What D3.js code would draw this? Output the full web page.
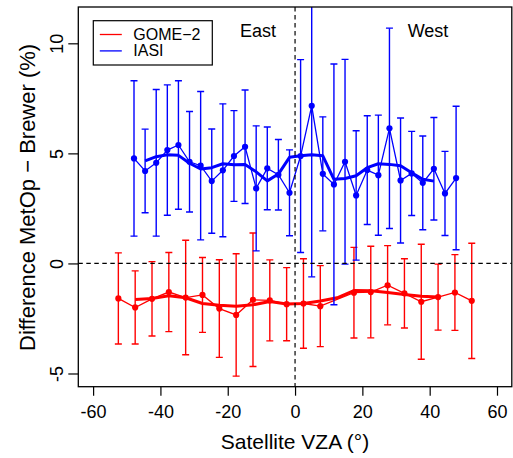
<!DOCTYPE html>
<html>
<head>
<meta charset="utf-8">
<script src="https://cdn.jsdelivr.net/npm/d3@7/dist/d3.min.js"></script>
<style>
	html, body { margin: 0; padding: 0; background: #fff; }
	svg { display: block; font-family: "Liberation Sans", Arial, Helvetica, sans-serif; }
</style>
</head>
<body>
<div id="chart"></div>
<script>
// IASI bins (3.3 deg wide)
const iasiVza = [-47.85, -44.55, -41.25, -37.95, -34.65, -31.35, -28.05, -24.75, -21.45, -18.15,
	-14.85, -11.55, -8.25, -4.95, -1.65, 1.65, 4.95, 8.25, 11.55, 14.85,
	18.15, 21.45, 24.75, 28.05, 31.35, 34.65, 37.95, 41.25, 44.55, 47.85];
const iasiMean = [4.77, 4.2, 4.57, 5.15, 5.38, 4.62, 4.44, 3.74, 4.23, 4.88,
	5.3, 3.41, 4.32, 4.03, 3.21, 4.88, 7.16, 4.07, 3.59, 4.62,
	3.09, 4.24, 4.01, 6.14, 3.77, 4.09, 3.66, 4.3, 3.18, 3.88];
const iasiSd = [3.53, 1.9, 3.33, 2.96, 2.92, 2.28, 3.37, 2.37, 3.02, 2.06,
	2.58, 2.84, 1.88, 1.6, 1.95, 4.38, 7.77, 2.59, 5.47, 4.65,
	2.94, 2.47, 2.73, 4.55, 2.84, 1.91, 2.13, 2.33, 1.91, 3.26];
const iasiSmoothVza = [-44.55, -41.25, -37.95, -34.65, -31.35, -28.05, -24.75, -21.45, -18.15,
	-14.85, -11.55, -8.25, -4.95, -1.65, 1.65, 4.95, 8.25, 11.55, 14.85,
	18.15, 21.45, 24.75, 28.05, 31.35, 34.65, 37.95, 41.25];
const iasiSmooth = [4.66, 4.85, 4.94, 4.91, 4.55, 4.29, 4.35, 4.53, 4.48,
	4.5, 4.16, 3.75, 4.06, 4.82, 4.89, 4.94, 4.89, 3.82, 3.86,
	3.98, 4.35, 4.53, 4.5, 4.44, 4.12, 3.82, 3.74];

// GOME-2 bins (5 deg wide, 12.5 missing)
const gomeVza = [-52.5, -47.5, -42.5, -37.5, -32.5, -27.5, -22.5, -17.5, -12.5, -7.5, -2.5,
	2.5, 7.5, 17.5, 22.5, 27.5, 32.5, 37.5, 42.5, 47.5, 52.5];
const gomeMean = [-1.59, -2.0, -1.61, -1.3, -1.55, -1.43, -2.05, -2.34, -1.65, -1.68, -1.85,
	-1.82, -1.94, -1.33, -1.3, -0.99, -1.36, -1.74, -1.53, -1.32, -1.7];
const gomeSd = [2.07, 1.66, 1.69, 1.8, 2.6, 1.7, 2.22, 2.78, 3.03, 1.84, 1.66,
	2.03, 1.84, 2.06, 2.08, 1.8, 1.57, 2.61, 1.5, 1.72, 2.62];
const gomeSmoothVza = [-47.5, -42.5, -37.5, -32.5, -27.5, -22.5, -17.5, -12.5, -7.5, -2.5,
	2.5, 7.5, 12.5, 17.5, 22.5, 27.5, 32.5, 37.5, 42.5];
const gomeSmooth = [-1.64, -1.59, -1.47, -1.56, -1.82, -1.9, -1.94, -1.88, -1.73, -1.84,
	-1.82, -1.71, -1.56, -1.23, -1.24, -1.32, -1.41, -1.49, -1.53];

const xTicks = [-60, -40, -20, 0, 20, 40, 60];
const yTicks = [-5, 0, 5, 10];
const seriesNames = ['GOME\u22122', 'IASI'];
const seriesColors = ['#ff0000', '#0000ff'];

const MARGIN = { TOP: 7, LEFT: 78.3, RIGHT: 1.2, BOTTOM: 71.3 };
const WIDTH = 513, HEIGHT = 458;
const chartWidth = WIDTH - MARGIN.LEFT - MARGIN.RIGHT;
const chartHeight = HEIGHT - MARGIN.TOP - MARGIN.BOTTOM;

const svg = d3.select('#chart').append('svg')
	.attr('width', WIDTH)
	.attr('height', HEIGHT);

const g = svg.append('g')
	.attr('transform', `translate(${MARGIN.LEFT},${MARGIN.TOP})`);

const x = d3.scaleLinear().domain([-64.4, 64.4]).range([0, chartWidth]);
const y = d3.scaleLinear().domain([-5.6, 11.65]).range([chartHeight, 0]);

g.append('clipPath').attr('id', 'plotclip')
	.append('rect').attr('width', chartWidth).attr('height', chartHeight);

const plot = g.append('g').attr('clip-path', 'url(#plotclip)');

const drawSeries = function(vza, mean, sd, sVza, smooth, color) {
	const pts = vza.map((v, i) => ({ x: v, m: mean[i], s: sd[i] }));
	const grp = plot.append('g');

	// error bars
	const bars = grp.selectAll('g.bar').data(pts).enter().append('g')
		.attr('stroke', color).attr('stroke-width', 1.4).attr('fill', 'none');
	bars.append('line')
		.attr('x1', d => x(d.x)).attr('x2', d => x(d.x))
		.attr('y1', d => y(d.m - d.s)).attr('y2', d => y(d.m + d.s));
	bars.append('line')
		.attr('x1', d => x(d.x) - 3.5).attr('x2', d => x(d.x) + 3.5)
		.attr('y1', d => y(d.m + d.s)).attr('y2', d => y(d.m + d.s));
	bars.append('line')
		.attr('x1', d => x(d.x) - 3.5).attr('x2', d => x(d.x) + 3.5)
		.attr('y1', d => y(d.m - d.s)).attr('y2', d => y(d.m - d.s));

	const line = d3.line().x(d => x(d[0])).y(d => y(d[1]));

	grp.append('path')
		.datum(pts.map(d => [d.x, d.m]))
		.attr('d', line)
		.attr('fill', 'none').attr('stroke', color).attr('stroke-width', 1.3);

	grp.append('path')
		.datum(sVza.map((v, i) => [v, smooth[i]]))
		.attr('d', line)
		.attr('fill', 'none').attr('stroke', color).attr('stroke-width', 3)
		.attr('stroke-linejoin', 'round');

	grp.selectAll('circle').data(pts).enter().append('circle')
		.attr('cx', d => x(d.x)).attr('cy', d => y(d.m)).attr('r', 3.1)
		.attr('fill', color);
};

drawSeries(gomeVza, gomeMean, gomeSd, gomeSmoothVza, gomeSmooth, seriesColors[0]);
drawSeries(iasiVza, iasiMean, iasiSd, iasiSmoothVza, iasiSmooth, seriesColors[1]);

// zero lines
plot.append('line')
	.attr('x1', 0).attr('x2', chartWidth).attr('y1', y(0)).attr('y2', y(0))
	.attr('stroke', '#000').attr('stroke-width', 1.2).attr('stroke-dasharray', '4.5,3.5');
plot.append('line')
	.attr('x1', x(0)).attr('x2', x(0)).attr('y1', 0).attr('y2', chartHeight)
	.attr('stroke', '#000').attr('stroke-width', 1.2).attr('stroke-dasharray', '4.5,3.5');

// axes
const axisX = d3.axisBottom(x).tickValues(xTicks).tickSize(9).tickPadding(10)
	.tickFormat(d3.format('d'));
const gx = g.append('g')
	.attr('transform', `translate(0,${chartHeight})`)
	.call(axisX);
gx.select('.domain').remove();
gx.selectAll('.tick line').attr('stroke', '#000').attr('stroke-width', 1.2);
gx.selectAll('.tick text')
	.text(d => String(d).replace('\u2212', '-'))
	.attr('font-size', 18).attr('fill', '#000').attr('font-family', 'Liberation Sans, Arial, sans-serif');

const axisY = d3.axisLeft(y).tickValues(yTicks).tickSize(10);
const gy = g.append('g').call(axisY);
gy.select('.domain').remove();
gy.selectAll('.tick line').attr('stroke', '#000').attr('stroke-width', 1.2);
gy.selectAll('.tick text')
	.text(d => String(d))
	.attr('x', 0).attr('y', -15.5).attr('dy', 0)
	.attr('transform', 'rotate(-90)')
	.attr('text-anchor', 'middle')
	.attr('font-size', 18).attr('fill', '#000').attr('font-family', 'Liberation Sans, Arial, sans-serif');

// box
g.append('rect')
	.attr('width', chartWidth).attr('height', chartHeight)
	.attr('fill', 'none').attr('stroke', '#000').attr('stroke-width', 1.3);

// axis titles
svg.append('text')
	.attr('x', MARGIN.LEFT + x(0)).attr('y', 448.5)
	.attr('text-anchor', 'middle').attr('font-size', 21)
	.text('Satellite VZA (\u00b0)');
svg.append('text')
	.attr('transform', `translate(35,${MARGIN.TOP + y(3)}) rotate(-90)`)
	.attr('text-anchor', 'middle').attr('font-size', 22)
	.text('Difference MetOp \u2212 Brewer (%)');

// East / West labels
g.append('text').attr('x', x(-11)).attr('y', y(10.3)).attr('text-anchor', 'middle')
	.attr('font-size', 18).text('East');
g.append('text').attr('x', x(39.5)).attr('y', y(10.3)).attr('text-anchor', 'middle')
	.attr('font-size', 18).text('West');

// legend
const legend = svg.append('g').attr('transform', 'translate(93.3,20.7)');
legend.append('rect').attr('width', 119).attr('height', 44.3)
	.attr('fill', '#fff').attr('stroke', '#000').attr('stroke-width', 1.2);
seriesNames.forEach((name, i) => {
	const ly = 13.8 + i * 16.4;
	legend.append('line')
		.attr('x1', 6.5).attr('x2', 28.5).attr('y1', ly).attr('y2', ly)
		.attr('stroke', seriesColors[i]).attr('stroke-width', 1.3);
	legend.append('text')
		.attr('x', 40).attr('y', ly + 5.6)
		.attr('font-size', 16)
		.text(name);
});
</script>
</body>
</html>
